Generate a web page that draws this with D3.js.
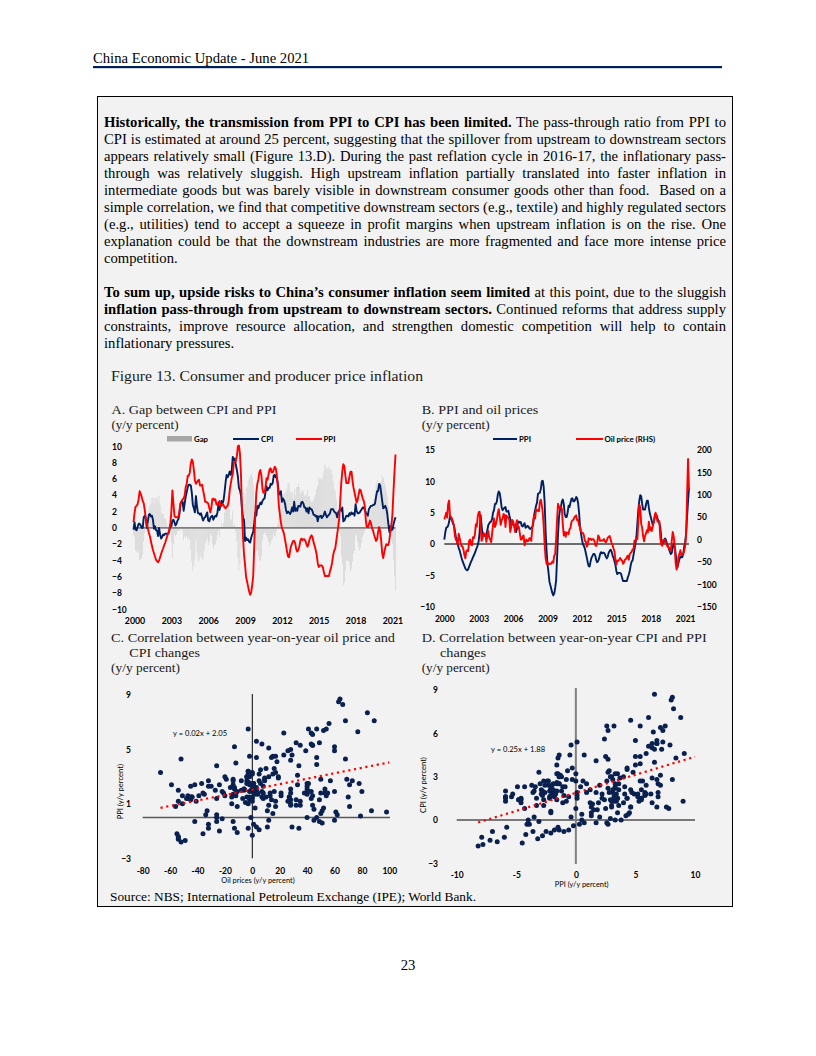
<!DOCTYPE html>
<html><head><meta charset="utf-8">
<script src="https://cdn.jsdelivr.net/npm/d3@7"></script>
<style>
body{margin:0;background:#fff;}
#page{position:relative;width:816px;height:1056px;overflow:hidden;background:#fff;}
#page svg{position:absolute;left:0;top:0;}
.ln{position:absolute;left:104px;width:622px;font-family:"Liberation Serif","Times New Roman",serif;font-size:14.67px;line-height:17px;height:17px;text-align:left;color:#000;white-space:nowrap;}
</style>
</head><body><div id="page"></div>
<script>
// ---------------- DATA (monthly, Jan 2000 - May 2021) ----------------
const xTickYears=[2000,2003,2006,2009,2012,2015,2018,2021];
const cpi=[
-0.2,0.7,-0.2,-0.3,0.1,0.5,0.5,0.3,0.0,0.0,1.3,1.5,
1.2,0.0,0.8,1.6,1.7,1.4,1.5,1.0,-0.1,0.2,-0.3,-0.3,
-1.0,0.0,-0.8,-1.3,-1.1,-0.8,-0.9,-0.7,-0.7,-0.8,-0.7,-0.4,
0.4,0.2,0.9,1.0,0.7,0.3,0.5,0.9,1.1,1.8,3.0,3.2,
3.2,2.1,3.0,3.8,4.4,5.0,5.3,5.3,5.2,4.3,2.8,2.4,
1.9,3.9,2.7,1.8,1.8,1.6,1.8,1.3,0.9,1.2,1.3,1.6,
1.9,0.9,0.8,1.2,1.4,1.5,1.0,1.3,1.5,1.4,1.9,2.8,
2.2,2.7,3.3,3.0,3.4,4.4,5.6,6.5,6.2,6.5,6.9,6.5,
7.1,8.7,8.3,8.5,7.7,7.1,6.3,4.9,4.6,4.0,2.4,1.2,
1.0,-1.6,-1.2,-1.5,-1.4,-1.7,-1.8,-1.2,-0.8,-0.5,0.6,1.9,
1.5,2.7,2.4,2.8,3.1,2.9,3.3,3.5,3.6,4.4,5.1,4.6,
4.9,4.9,5.4,5.3,5.5,6.4,6.5,6.2,6.1,5.5,4.2,4.1,
4.5,3.2,3.6,3.4,3.0,2.2,1.8,2.0,1.9,1.7,2.0,2.5,
2.0,3.2,2.1,2.4,2.1,2.7,2.7,2.6,3.1,3.2,3.0,2.5,
2.5,2.0,2.4,1.8,2.5,2.3,2.3,2.0,1.6,1.6,1.4,1.5,
0.8,1.4,1.4,1.5,1.2,1.4,1.6,2.0,1.6,1.3,1.5,1.6,
1.8,2.3,2.3,2.3,2.0,1.9,1.8,1.3,1.9,2.1,2.3,2.1,
2.5,0.8,0.9,1.2,1.5,1.5,1.4,1.8,1.6,1.9,1.7,1.8,
1.5,2.9,2.1,1.8,1.8,1.9,2.1,2.3,2.5,2.5,2.2,1.9,
1.7,1.5,2.3,2.5,2.7,2.7,2.8,2.8,3.0,3.8,4.5,4.5,
5.4,5.2,4.3,3.3,2.4,2.5,2.7,2.4,1.7,0.5,-0.5,0.2,
-0.3,-0.2,0.4,0.9,1.3];
const ppi=[
0.7,1.8,2.6,2.7,2.9,3.5,4.5,4.2,3.8,3.3,3.0,2.2,
1.2,0.5,0.0,-0.6,-1.0,-1.6,-2.2,-2.7,-3.1,-3.5,-3.9,-4.1,
-4.2,-4.0,-3.6,-3.2,-2.8,-2.5,-2.1,-1.8,-1.4,-1.0,-0.6,-0.2,
0.5,2.0,4.6,3.0,1.5,1.3,1.3,1.3,1.4,2.2,3.0,3.3,
3.5,3.6,4.0,5.0,5.4,6.4,6.4,6.8,7.9,8.4,8.1,7.1,
5.8,5.4,5.6,5.8,5.9,5.2,5.2,5.3,4.6,4.0,3.2,3.2,
3.1,3.0,2.5,1.9,2.4,3.5,3.6,3.4,3.5,2.9,2.8,3.1,
3.3,2.6,2.7,2.9,2.8,2.5,2.4,2.6,2.7,3.2,4.6,5.4,
6.1,6.6,8.0,8.1,8.2,8.8,10.0,10.1,9.1,6.6,2.0,-1.1,
-3.3,-4.5,-6.0,-6.6,-7.2,-7.8,-8.2,-7.9,-7.0,-5.8,-2.1,1.7,
4.3,5.4,5.9,6.8,7.1,6.4,4.8,4.3,4.3,5.0,6.1,5.9,
6.6,7.2,7.3,6.8,6.8,7.1,7.5,7.3,6.5,5.0,2.7,1.7,
0.7,0.0,-0.3,-0.7,-1.4,-2.1,-2.9,-3.5,-3.6,-2.8,-2.2,-1.9,
-1.6,-1.6,-1.9,-2.6,-2.9,-2.7,-2.3,-1.6,-1.3,-1.5,-1.4,-1.4,
-1.6,-2.0,-2.3,-2.0,-1.4,-1.1,-0.9,-1.2,-1.8,-2.2,-2.7,-3.3,
-4.3,-4.8,-4.6,-4.6,-4.6,-4.8,-5.4,-5.9,-5.9,-5.9,-5.9,-5.9,
-5.3,-4.9,-4.3,-3.4,-2.8,-2.6,-1.7,-0.8,0.1,1.2,3.3,5.5,
6.9,7.8,7.6,6.4,5.5,5.5,5.5,6.3,6.9,6.9,5.8,4.9,
4.3,3.7,3.1,3.4,4.1,4.7,4.6,4.1,3.6,3.3,2.7,0.9,
0.1,0.1,0.4,0.9,0.6,0.0,-0.3,-0.8,-1.2,-1.6,-1.4,-0.5,
0.1,-0.4,-1.5,-3.1,-3.7,-3.0,-2.4,-2.0,-2.1,-2.1,-1.5,-0.4,
0.3,1.7,4.4,6.8,9.0];
const gap=[
-0.9,-1.1,-2.8,-3.0,-2.8,-3.0,-4.0,-3.9,-3.8,-3.3,-1.7,-0.7,
0.0,-0.5,0.8,2.2,2.7,3.0,3.7,3.7,3.0,3.7,3.6,3.8,
3.2,4.0,2.8,1.9,1.7,1.7,1.2,1.1,0.7,0.2,-0.1,-0.2,
-0.1,-1.8,-3.7,-2.0,-0.8,-1.0,-0.8,-0.4,-0.3,-0.4,0.0,-0.1,
-0.3,-1.5,-1.0,-1.2,-1.0,-1.4,-1.1,-1.5,-2.7,-4.1,-5.3,-4.7,
-3.9,-1.5,-2.9,-4.0,-4.1,-3.6,-3.4,-4.0,-3.7,-2.8,-1.9,-1.6,
-1.2,-2.1,-1.7,-0.7,-1.0,-2.0,-2.6,-2.1,-2.0,-1.5,-0.9,-0.3,
-1.1,0.1,0.6,0.1,0.6,1.9,3.2,3.9,3.5,3.3,2.3,1.1,
1.0,2.1,0.3,0.4,-0.5,-1.7,-3.7,-5.2,-4.5,-2.6,0.4,2.3,
4.3,2.9,4.8,5.1,5.8,6.1,6.4,6.7,6.2,5.3,2.7,0.2,
-2.8,-2.7,-3.5,-4.0,-4.0,-3.5,-1.5,-0.8,-0.7,-0.6,-1.0,-1.3,
-1.7,-2.3,-1.9,-1.5,-1.3,-0.7,-1.0,-1.1,-0.4,0.5,1.5,2.4,
3.8,3.2,3.9,4.1,4.4,4.3,4.7,5.5,5.5,4.5,4.2,4.4,
3.6,4.8,4.0,5.0,5.0,5.4,5.0,4.2,4.4,4.7,4.4,3.9,
4.1,4.0,4.7,3.8,3.9,3.4,3.2,3.2,3.4,3.8,4.1,4.8,
5.1,6.2,6.0,6.1,5.8,6.2,7.0,7.9,7.5,7.2,7.4,7.5,
7.1,7.2,6.6,5.7,4.8,4.5,3.5,2.1,1.8,0.9,-1.0,-3.4,
-4.4,-7.0,-6.7,-5.2,-4.0,-4.0,-4.1,-4.5,-5.3,-5.0,-4.1,-3.1,
-2.8,-0.8,-1.0,-1.6,-2.3,-2.8,-2.5,-1.8,-1.1,-0.8,-0.5,1.0,
1.6,1.4,1.9,1.6,2.1,2.7,3.1,3.6,4.2,5.4,5.9,5.0,
5.3,5.6,5.8,6.4,6.1,5.5,5.1,4.4,3.8,2.6,1.0,0.6,
-0.6,-1.9,-4.0,-5.9,-7.7];
const oil=[
45,52,60,49,79,87,51,50,47,40,32,10,
0,-1,-11,13,4,-7,-15,-15,-22,-34,-42,-26,
-24,-26,-3,0,-11,-13,5,3,11,34,29,51,
61,62,28,-3,2,15,11,12,-5,8,19,5,
0,-6,12,34,47,28,35,44,60,68,50,33,
43,47,57,55,28,54,50,49,44,17,28,44,
41,32,17,35,43,27,28,14,0,0,7,9,
-13,-4,0,-4,-3,3,3,-3,23,41,56,47,
68,64,66,63,84,89,77,60,29,-12,-42,-54,
-51,-54,-55,-54,-54,-49,-52,-36,-32,1,45,80,
70,73,71,69,33,9,17,6,16,14,12,23,
26,39,43,44,49,52,54,43,44,32,28,18,
15,15,10,-3,-4,-16,-12,3,0,2,-1,1,
1,-3,-13,-14,-6,9,5,-3,-2,-2,-2,1,
-4,-6,-2,4,6,8,0,-8,-12,-20,-26,-44,
-56,-47,-48,-45,-41,-45,-47,-54,-51,-45,-44,-39,
-36,-45,-32,-30,-27,-22,-21,-2,-2,2,1,40,
78,71,35,26,7,-4,8,13,21,16,40,21,
27,19,28,38,53,60,53,40,40,41,3,-11,
-14,-2,0,-1,-8,-14,-14,-19,-20,-26,-2,17,
7,-13,-52,-67,-59,-37,-32,-24,-35,-33,-32,-26,
-14,12,98,180,110];
const yTicksA=[-10,-8,-6,-4,-2,0,2,4,6,8,10];
const yTicksBL=[-10,-5,0,5,10,15];
const yTicksBR=[-150,-100,-50,0,50,100,150,200];
const xTicksC=[-80,-60,-40,-20,0,20,40,60,80,100];
const yTicksC=[-3,1,5,9];
const xTicksD=[-10,-5,0,5,10];
const yTicksD=[-3,0,3,6,9];
const trendC={slope:0.02,intercept:2.05,from:-67,to:100,label:"y = 0.02x + 2.05"};
const trendD={slope:0.25,intercept:1.88,from:-8.2,to:10,label:"y = 0.25x + 1.88"};

// ---------------- PAGE ----------------
const NAVY="#002060", RED="#ff0000", DOT="#0a2150";
const SANS="Lato, 'Liberation Sans', sans-serif";
const SERIF="'Liberation Serif','Times New Roman',serif";
const page=d3.select("#page");
const svg=page.append("svg").attr("width",816).attr("height",1056);

svg.append("text").attr("x",93).attr("y",62.5).attr("font-family",SERIF).attr("font-size",14.67).text("China Economic Update - June 2021");
svg.append("rect").attr("x",93).attr("y",66).attr("width",629).attr("height",2.2).attr("fill",NAVY);
svg.append("rect").attr("x",97.5).attr("y",96.5).attr("width",635).attr("height",810).attr("fill","#f2f2f2").attr("stroke","#000").attr("stroke-width",1);

const p1=[
"<b>Historically, the transmission from PPI to CPI has been limited.</b> The pass-through ratio from PPI to",
"CPI is estimated at around 25 percent, suggesting that the spillover from upstream to downstream sectors",
"appears relatively small (Figure 13.D). During the past reflation cycle in 2016-17, the inflationary pass-",
"through was relatively sluggish. High upstream inflation partially translated into faster inflation in",
"intermediate goods but was barely visible in downstream consumer goods other than food.&nbsp; Based on a",
"simple correlation, we find that competitive downstream sectors (e.g., textile) and highly regulated sectors",
"(e.g., utilities) tend to accept a squeeze in profit margins when upstream inflation is on the rise. One",
"explanation could be that the downstream industries are more fragmented and face more intense price",
"competition."];
const p2=[
"<b>To sum up, upside risks to China’s consumer inflation seem limited</b> at this point, due to the sluggish",
"<b>inflation pass-through from upstream to downstream sectors.</b> Continued reforms that address supply",
"constraints, improve resource allocation, and strengthen domestic competition will help to contain",
"inflationary pressures."];
function addPara(lines,top){
  lines.forEach((t,i)=>{
    const div=page.append("div").attr("class","ln").style("top",(top+17*i)+"px").html("<span>"+t+"</span>");
    if(i<lines.length-1){
      const span=div.select("span").node();
      const w=span.getBoundingClientRect().width;
      const n=(span.textContent.match(/[ \u00a0]/g)||[]).length;
      if(n>0) div.style("word-spacing",((622-w)/n)+"px");
    }
  });
}
addPara(p1,114);
addPara(p2,284);

function serifText(x,y,t,size,len){
  const s=svg.append("text").attr("x",x).attr("y",y).attr("font-family",SERIF).attr("font-size",size).attr("fill","#1a1a1a").text(t);
  if(len) s.attr("textLength",len).attr("lengthAdjust","spacingAndGlyphs");
  return s;
}
serifText(111,380.5,"Figure 13. Consumer and producer price inflation",14.67,312);
serifText(111.5,414,"A. Gap between CPI and PPI",13.3,165);
serifText(111.5,429.3,"(y/y percent)",12.5,67);
serifText(421.7,414,"B. PPI and oil prices",13.3,116.7);
serifText(421.7,429.3,"(y/y percent)",12.5,68);
serifText(111,642.3,"C. Correlation between year-on-year oil price and",13.3,284);
serifText(129.3,656.7,"CPI changes",13.3,70.7);
serifText(111,671.7,"(y/y percent)",12.5,69);
serifText(421.7,642.3,"D. Correlation between year-on-year CPI and PPI",13.3,285);
serifText(440,656.7,"changes",13.3,46);
serifText(421.7,671.7,"(y/y percent)",12.5,68);
serifText(110,901,"Source: NBS; International Petroleum Exchange (IPE); World Bank.",13.33,366).attr("fill","#000");
svg.append("text").attr("x",408).attr("y",970).attr("text-anchor","middle").attr("font-family",SERIF).attr("font-size",14.67).text("23");

function styleAxis(g,size,weight){
  g.attr("font-family",SANS).attr("font-size",size).attr("font-weight",weight);
  g.select(".domain").remove();
  g.selectAll(".tick line").remove();
  g.selectAll("text").attr("fill","#000");
}
function bottomAxis(scale,vals,fmt,y,size){
  const g=svg.append("g").attr("transform",`translate(0,${y})`).call(d3.axisBottom(scale).tickValues(vals).tickFormat(fmt).tickSize(0).tickPadding(0));
  styleAxis(g,size,700);
  g.selectAll("text").attr("y",0).attr("dy",0);
  return g;
}

const months=d3.range(cpi.length);

// ---------------- PANEL A ----------------
const xA=d3.scaleLinear().domain([0,256]).range([133.5,395.5]);
const yA=d3.scaleLinear().domain([-10,10]).range([609.5,446.3]);
svg.append("g").selectAll("rect").data(months).join("rect")
  .attr("x",i=>xA(i)-0.25).attr("width",0.5)
  .attr("y",i=>yA(Math.max(0,gap[i]))).attr("height",i=>Math.abs(yA(gap[i])-yA(0)))
  .attr("fill","#c8c8c8");
svg.append("line").attr("x1",xA(0)).attr("x2",xA(256)).attr("y1",yA(0)).attr("y2",yA(0)).attr("stroke","#7f7f7f").attr("stroke-width",1.6);
const lineA=arr=>d3.line().x(i=>xA(i)).y(i=>yA(arr[i]))(months);
svg.append("path").attr("d",lineA(cpi)).attr("fill","none").attr("stroke",NAVY).attr("stroke-width",1.9).attr("stroke-linejoin","round");
svg.append("path").attr("d",lineA(ppi)).attr("fill","none").attr("stroke",RED).attr("stroke-width",1.9).attr("stroke-linejoin","round");
{
  const g=svg.append("g").attr("transform","translate(112,0)").call(d3.axisLeft(yA).tickValues(yTicksA).tickSize(0).tickPadding(0));
  styleAxis(g,8.5,700); g.selectAll("text").attr("text-anchor","start").attr("x",0);
  const gb=bottomAxis(xA,xTickYears.map(y=>(y-2000)*12),i=>2000+i/12,623.5,8.8);
  gb.selectAll(".tick").attr("transform",function(d){return `translate(${xA(d)+1.5},0)`;});
}
// legend A
svg.append("rect").attr("x",167).attr("y",436).attr("width",25).attr("height",5.5).attr("fill","#a6a6a6");
const legText=(x,t)=>svg.append("text").attr("x",x).attr("y",442).attr("font-family",SANS).attr("font-size",7.8).attr("font-weight",700).text(t);
legText(194,"Gap");
svg.append("line").attr("x1",233).attr("x2",259).attr("y1",439).attr("y2",439).attr("stroke",NAVY).attr("stroke-width",2);
legText(261,"CPI");
svg.append("line").attr("x1",296).attr("x2",322).attr("y1",439).attr("y2",439).attr("stroke",RED).attr("stroke-width",2);
legText(323.5,"PPI");

// ---------------- PANEL B ----------------
const xB=d3.scaleLinear().domain([0,256]).range([444.3,689]);
const yBL=d3.scaleLinear().domain([-10,15]).range([606.7,450]);
const yBR=d3.scaleLinear().domain([-150,200]).range([606.7,450]);
svg.append("line").attr("x1",xB(0)).attr("x2",xB(256)).attr("y1",yBL(0)).attr("y2",yBL(0)).attr("stroke","#404040").attr("stroke-width",1.3);
svg.append("path").attr("d",d3.line().x(i=>xB(i)).y(i=>yBL(ppi[i]))(months)).attr("fill","none").attr("stroke",NAVY).attr("stroke-width",1.9).attr("stroke-linejoin","round");
svg.append("path").attr("d",d3.line().x(i=>xB(i)).y(i=>yBR(oil[i]))(months)).attr("fill","none").attr("stroke",RED).attr("stroke-width",1.9).attr("stroke-linejoin","round");
{
  const g=svg.append("g").attr("transform","translate(435,0)").call(d3.axisLeft(yBL).tickValues(yTicksBL).tickSize(0).tickPadding(0));
  styleAxis(g,8.5,700);
  const gr=svg.append("g").attr("transform","translate(697,0)").call(d3.axisRight(yBR).tickValues(yTicksBR).tickSize(0).tickPadding(0));
  styleAxis(gr,8.5,700);
  bottomAxis(xB,xTickYears.map(y=>(y-2000)*12),i=>2000+i/12,621.5,8.5);
}
svg.append("line").attr("x1",493).attr("x2",517).attr("y1",439).attr("y2",439).attr("stroke",NAVY).attr("stroke-width",2);
legText(519,"PPI");
svg.append("line").attr("x1",576).attr("x2",603).attr("y1",439).attr("y2",439).attr("stroke",RED).attr("stroke-width",2);
legText(604.5,"Oil price (RHS)");

// ---------------- SCATTER helper ----------------
function scatter(xs,ys,xArr,yArr,trend,cfg){
  const pts=months.map(i=>[xArr[i],yArr[i]]).filter(p=>p[0]>xs.domain()[0]&&p[0]<xs.domain()[1]&&p[1]>ys.domain()[0]&&p[1]<ys.domain()[1]);
  svg.append("line").attr("x1",cfg.hx[0]).attr("x2",cfg.hx[1]).attr("y1",ys(0)).attr("y2",ys(0)).attr("stroke",cfg.hColor).attr("stroke-width",cfg.hW);
  svg.append("line").attr("x1",xs(0)).attr("x2",xs(0)).attr("y1",cfg.vy[0]).attr("y2",cfg.vy[1]).attr("stroke",cfg.vColor).attr("stroke-width",cfg.vW);
  svg.append("g").selectAll("circle").data(pts).join("circle").attr("cx",d=>xs(d[0])).attr("cy",d=>ys(d[1])).attr("r",2.5).attr("fill",DOT);
  const tl=[trend.from,trend.to].map(x=>[x,trend.slope*x+trend.intercept]);
  svg.append("path").attr("d",d3.line().x(d=>xs(d[0])).y(d=>ys(d[1]))(tl)).attr("stroke",RED).attr("stroke-width",2.2).attr("stroke-dasharray","2.2,3.6").attr("fill","none");
  svg.append("text").attr("x",cfg.eq[0]).attr("y",cfg.eq[1]).attr("font-family",SANS).attr("font-size",7.6).attr("fill","#000").text(trend.label);
}

// ---------------- PANEL C ----------------
const xC=d3.scaleLinear().domain([-80,100]).range([142.7,389.3]);
const yC=d3.scaleLinear().domain([-3,9]).range([858.3,695]);
scatter(xC,yC,oil,cpi,trendC,{hx:[142.7,390],hColor:"#595959",hW:1.5,vy:[694,858.3],vColor:"#000",vW:1,eq:[173,735.5]});
{
  const g=svg.append("g").attr("transform","translate(131,0)").call(d3.axisLeft(yC).tickValues(yTicksC).tickSize(0).tickPadding(0));
  styleAxis(g,8.5,700);
  bottomAxis(xC,xTicksC,d=>d,873.6,8.5);
  svg.append("text").attr("x",258).attr("y",883.2).attr("text-anchor","middle").attr("font-family",SANS).attr("font-size",7.4).text("Oil prices (y/y percent)");
  svg.append("text").attr("transform","translate(123.3,791.7) rotate(-90)").attr("text-anchor","middle").attr("font-family",SANS).attr("font-size",7.6).text("PPI (y/y percent)");
}

// ---------------- PANEL D ----------------
const xD=d3.scaleLinear().domain([-10,10]).range([456.7,695]);
const yD=d3.scaleLinear().domain([-3,9]).range([863.3,690]);
scatter(xD,yD,ppi,cpi,trendD,{hx:[456.7,695],hColor:"#000",hW:1.2,vy:[688,864],vColor:"#7f7f7f",vW:2,eq:[491,752]});
{
  const g=svg.append("g").attr("transform","translate(438,0)").call(d3.axisLeft(yD).tickValues(yTicksD).tickSize(0).tickPadding(0));
  styleAxis(g,8.5,700);
  bottomAxis(xD,xTicksD,d=>d,877.6,8.5);
  svg.append("text").attr("x",581.7).attr("y",887).attr("text-anchor","middle").attr("font-family",SANS).attr("font-size",7.4).text("PPI (y/y percent)");
  svg.append("text").attr("transform","translate(425.6,785) rotate(-90)").attr("text-anchor","middle").attr("font-family",SANS).attr("font-size",7.6).text("CPI (y/y percent)");
}
</script>
</body></html>
